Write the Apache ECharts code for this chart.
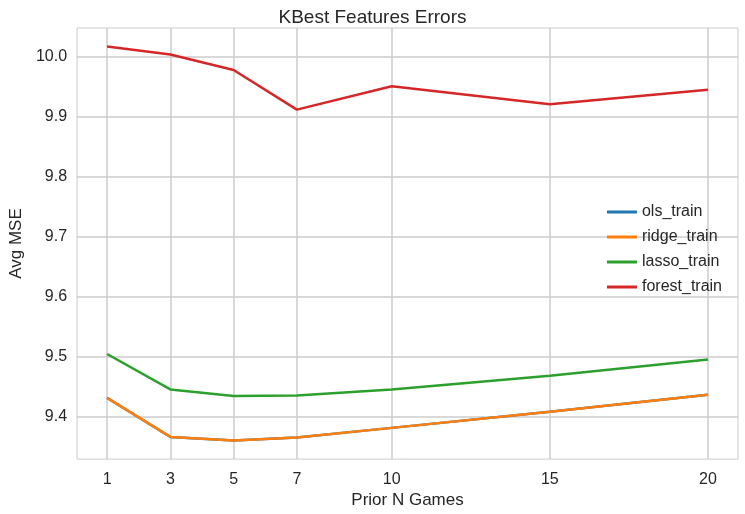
<!DOCTYPE html>
<html>
<head>
<meta charset="utf-8">
<script src="https://cdn.jsdelivr.net/npm/echarts@6/dist/echarts.min.js"></script>
</head>
<body style="margin:0;background:#fff">
<div id="main" style="width:745px;height:514px"></div>
<script>
// 数据
var games = [1, 3, 5, 7, 10, 15, 20];
var olsTrain = [9.432, 9.367, 9.361, 9.366, 9.382, 9.409, 9.437];
var ridgeTrain = [9.432, 9.367, 9.361, 9.366, 9.382, 9.409, 9.437];
var lassoTrain = [9.505, 9.446, 9.435, 9.436, 9.446, 9.469, 9.496];
var forestTrain = [10.017, 10.004, 9.978, 9.912, 9.951, 9.921, 9.945];
var yTicks = [9.4, 9.5, 9.6, 9.7, 9.8, 9.9, 10.0];

function pairs(v) {
    return games.map(function (g, i) { return [g, v[i]]; });
}

var myChart = echarts.init(document.getElementById('main'));
var font = 'Liberation Sans';
var option = {
    textStyle: {fontFamily: font},
    title: {
        text: 'KBest Features Errors',
        left: 'center', top: 3,
        textStyle: {fontFamily: font, fontSize: 19, fontWeight: 'normal', color: '#262626'}
    },
    color: ['#1f77b4', '#ff7f0e', '#2ca02c', '#d62728'],
    legend: {
        orient: 'vertical',
        right: 18, top: 199,
        itemWidth: 30, itemHeight: 3, itemGap: 9,
        icon: 'rect',
        textStyle: {fontFamily: font, fontSize: 16, color: '#262626'},
        data: ['ols_train', 'ridge_train', 'lasso_train', 'forest_train']
    },
    grid: {left: 61, right: 7, top: 28, bottom: 54, show: true, borderColor: '#cccccc', borderWidth: 1},
    xAxis: {
        type: 'value', min: 0.05, max: 20.95,
        name: 'Prior N Games', nameLocation: 'middle', nameGap: 32,
        nameTextStyle: {fontSize: 17, color: '#262626'},
        axisLine: {show: false},
        axisTick: {show: false, customValues: games},
        axisLabel: {customValues: games, fontSize: 16, color: '#262626', margin: 12},
        splitLine: {show: true, lineStyle: {color: '#cccccc', width: 1.5}}
    },
    yAxis: {
        type: 'value', min: 9.33, max: 10.048,
        name: 'Avg MSE', nameLocation: 'middle', nameGap: 45,
        nameTextStyle: {fontSize: 17, color: '#262626'},
        axisLine: {show: false},
        axisTick: {show: false, customValues: yTicks},
        axisLabel: {customValues: yTicks, fontSize: 16, color: '#262626', margin: 10,
            formatter: function (v) { return v.toFixed(1); }},
        splitLine: {show: true, lineStyle: {color: '#cccccc', width: 1.5}}
    },
    series: [
        {name: 'ols_train', type: 'line', data: pairs(olsTrain), showSymbol: false, lineStyle: {width: 2.5}},
        {name: 'ridge_train', type: 'line', data: pairs(ridgeTrain), showSymbol: false, lineStyle: {width: 2.5}},
        {name: 'lasso_train', type: 'line', data: pairs(lassoTrain), showSymbol: false, lineStyle: {width: 2.5}},
        {name: 'forest_train', type: 'line', data: pairs(forestTrain), showSymbol: false, lineStyle: {width: 2.5}}
    ]
};
myChart.setOption(option);
</script>
</body>
</html>
